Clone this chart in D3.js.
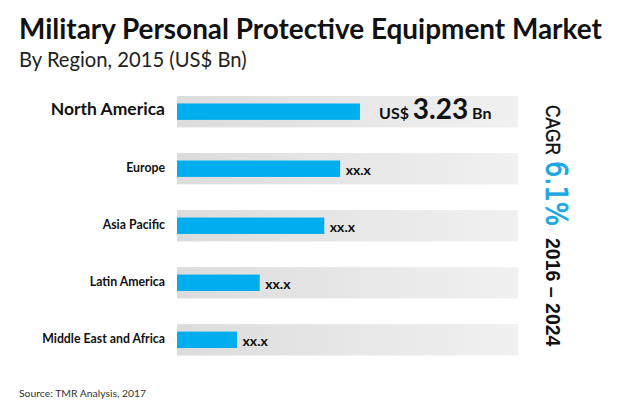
<!DOCTYPE html>
<html><head><meta charset="utf-8">
<script src="https://cdn.jsdelivr.net/npm/d3@7"></script>
<style>html,body{margin:0;padding:0;background:#fff}svg{display:block}</style>
</head><body><div id="c"></div>
<script>
const regions=["North America","Europe","Asia Pacific","Latin America","Middle East and Africa"];
const values=[3.23,2.88,2.6,1.46,1.06];
const valueLabels=["","xx.x","xx.x","xx.x","xx.x"];
const axisMax=6.02;
const W=620,H=407;
const svg=d3.select("#c").append("svg").attr("width",W).attr("height",H);
const defs=svg.append("defs");
const g=defs.append("linearGradient").attr("id","track");
g.append("stop").attr("offset","0%").attr("stop-color","#dcdcdc");
g.append("stop").attr("offset","100%").attr("stop-color","#f1f1f1");
const x=d3.scaleLinear().domain([0,axisMax]).range([177,518]);
const y=d3.scaleBand().domain(regions).range([96,355.5]).paddingInner(0.45).paddingOuter(0);
const font="Lato, Carlito, sans-serif";
const txt=(s,xx,yy,size,weight,fill,anchor)=>svg.append("text").attr("x",xx).attr("y",yy).attr("font-family",font).attr("font-size",size).attr("font-weight",weight).attr("fill",fill||"#111").attr("text-anchor",anchor||"start").text(s);
txt("Military Personal Protective Equipment Market",19,39,27.9,700,"#111");
txt("By Region, 2015 (US$ Bn)",19,67,20.2,400,"#222");
const row=svg.selectAll("g.row").data(regions).join("g").attr("class","row");
row.append("rect").attr("x",x(0)).attr("y",d=>y(d)).attr("width",x(axisMax)-x(0)).attr("height",y.bandwidth()).attr("fill","url(#track)");
row.append("rect").attr("x",x(0)).attr("y",d=>y(d)+y.bandwidth()/2-8.2).attr("width",(d,i)=>x(values[i])-x(0)).attr("height",16.4).attr("fill","#00aeef");
row.append("text").attr("x",165).attr("y",d=>y(d)+y.bandwidth()/2+3).attr("text-anchor","end")
 .attr("font-family",font).attr("font-weight",700).attr("font-size",(d,i)=>i==0?17.5:12.3).attr("fill","#111").text(d=>d);
row.append("text").attr("x",(d,i)=>x(values[i])+5.5).attr("y",d=>y(d)+y.bandwidth()/2+6.5).attr("font-family",font).attr("font-weight",700).attr("font-size",14).attr("fill","#111").text((d,i)=>valueLabels[i]);
const big=svg.append("text").attr("x",379).attr("y",119).attr("font-family",font).attr("font-weight",700).attr("fill","#111");
big.append("tspan").attr("font-size",16).text("US$ ");
big.append("tspan").attr("font-size",28).text(values[0].toFixed(2));
big.append("tspan").attr("font-size",16).text(" Bn");
const vert=(s,py,size,fam,weight,fill,stretch,sw)=>svg.append("text").attr("transform",`translate(546,${py}) rotate(90) scale(1,${stretch})`).attr("font-family",fam).attr("font-size",size).attr("font-weight",weight).attr("fill",fill).attr("stroke",fill).attr("stroke-width",sw).text(s);
vert("CAGR",105,17.3,"'Liberation Sans'",400,"#111",1.2,0.4);
vert("6.1%",161,25.6,"'DejaVu Sans'",400,"#1ba7e1",1.15,0.7);
vert("2016 – 2024",238,19.5,"'Liberation Sans'",700,"#111",1,0);
txt("Source: TMR Analysis, 2017",19,397,10.4,400,"#333");
</script></body></html>
